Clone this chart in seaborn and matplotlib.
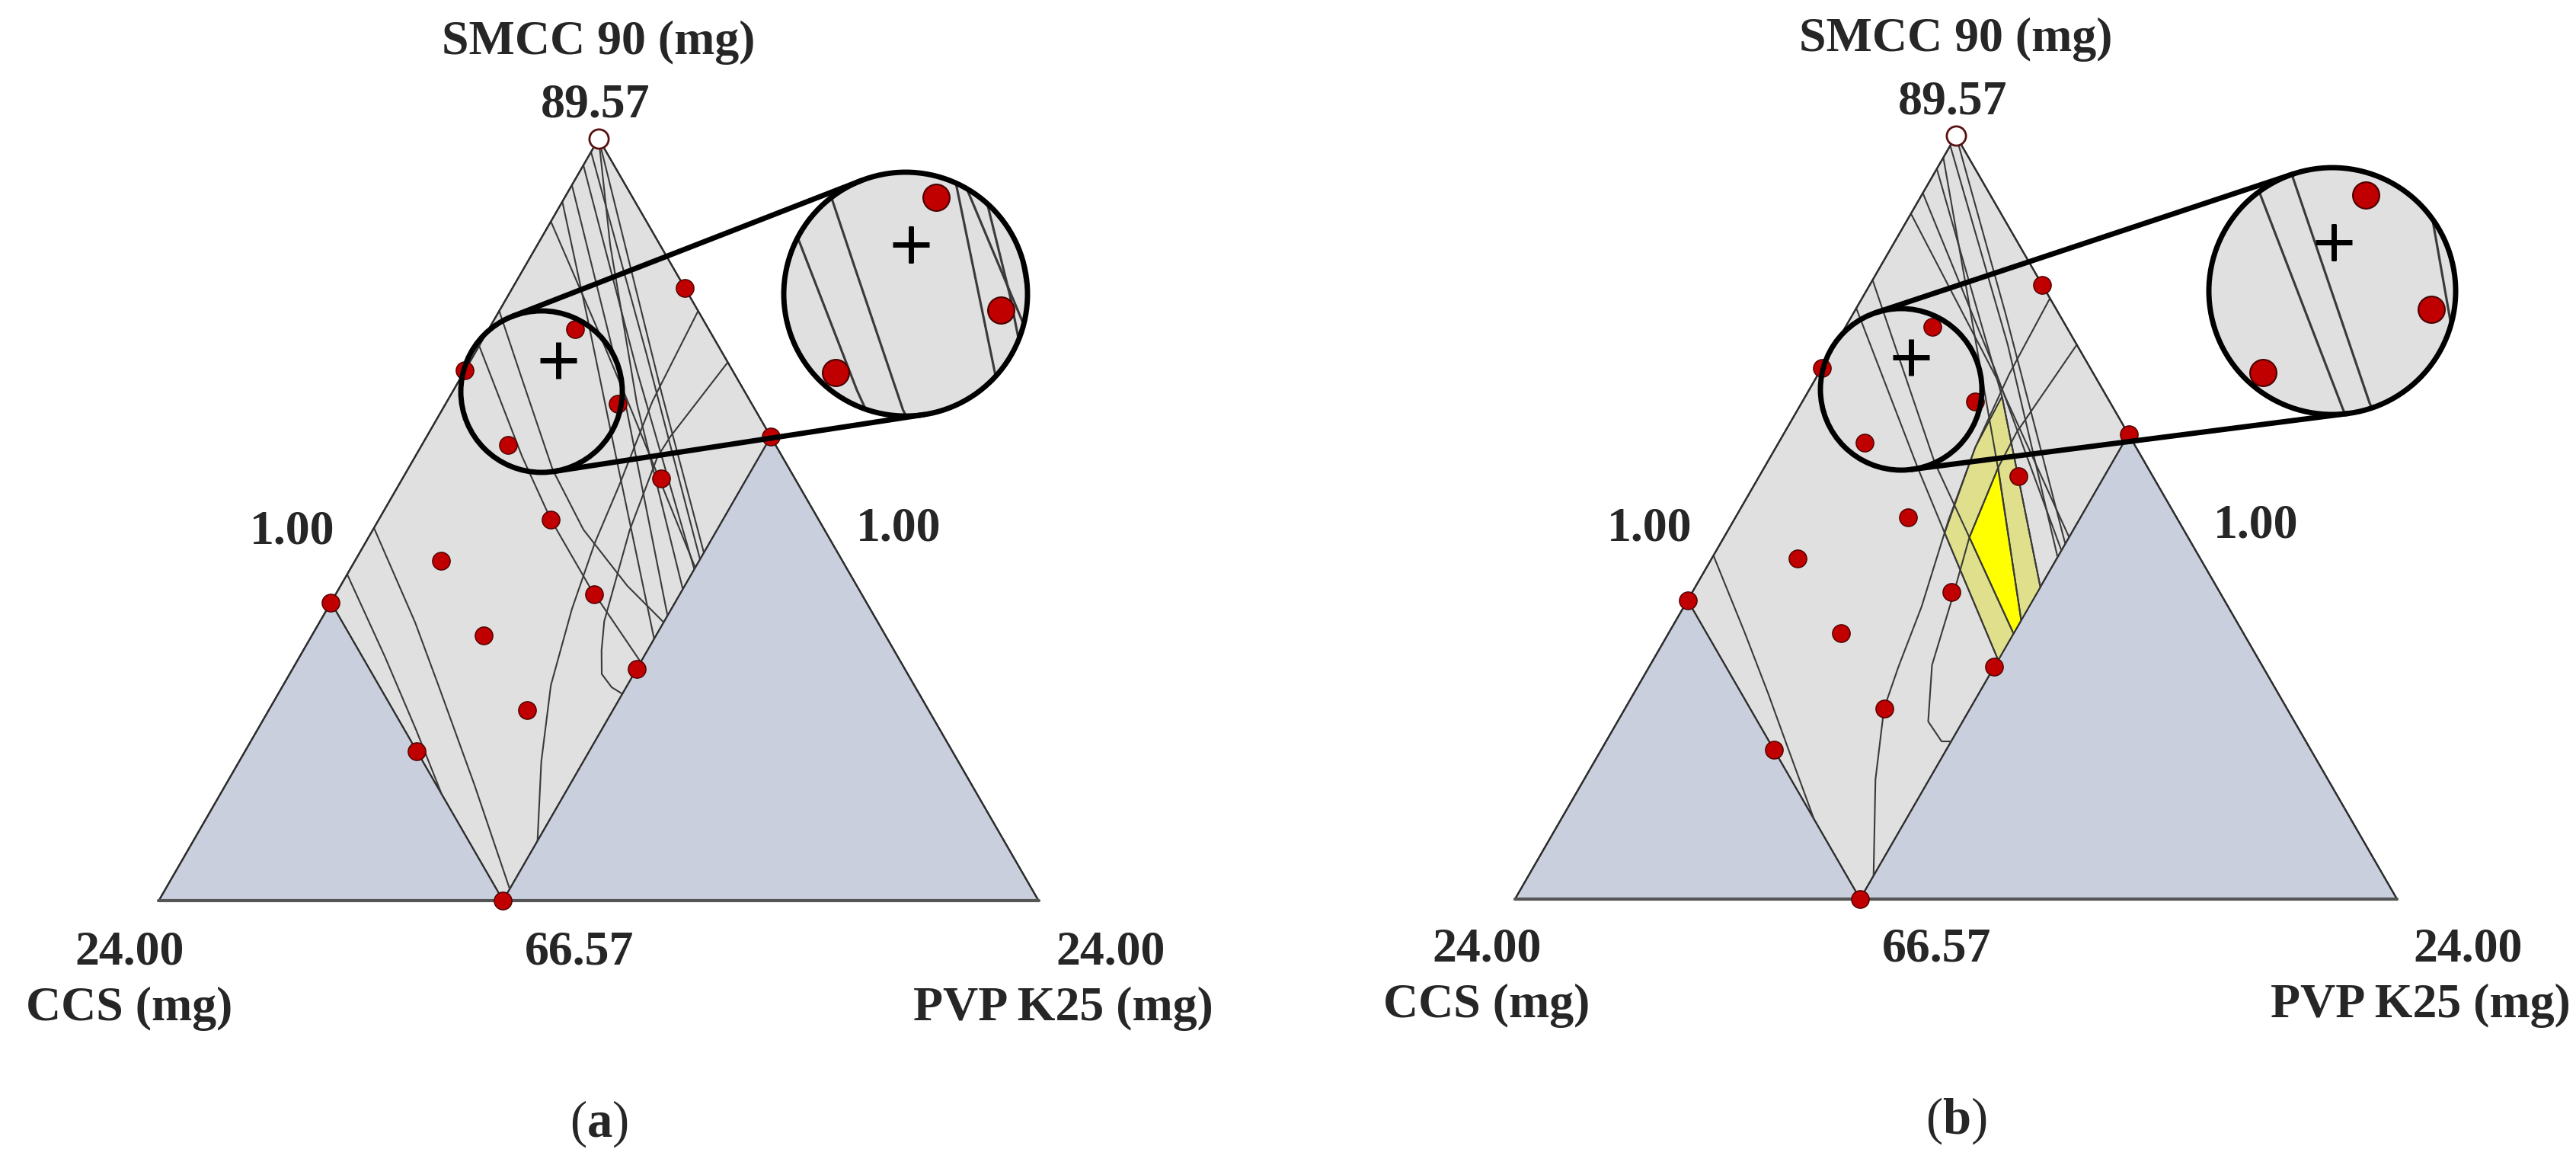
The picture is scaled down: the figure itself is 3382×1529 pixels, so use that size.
import numpy as np
import matplotlib
matplotlib.use("Agg")
import matplotlib.pyplot as plt
from matplotlib.patches import Circle, Polygon
from matplotlib.transforms import Affine2D
import seaborn as sns

sns.set_style("white")
plt.rcParams["font.family"] = ["Liberation Serif", "DejaVu Serif"]
plt.rcParams["mathtext.fontset"] = "custom"
plt.rcParams["mathtext.rm"] = "Liberation Serif"
plt.rcParams["mathtext.bf"] = "Liberation Serif:bold"

W, H, DPI = 3382, 1529, 100

# mixture limits (mg); SMCC 90 = 91.57 - CCS - PVP
LOW = 1.0
SPAN = 23.0
CCS_MAX, PVP_MAX = 15.0, 10.0

# design runs (mg)
ccs_mg = [1, 8, 4.5, 4.5, 8, 1, 4.5, 8, 11.5, 15, 8, 11.5, 8, 11.5, 15, 15]
pvp_mg = [5.5, 1, 3.25, 5.5, 3.25, 10, 7.75, 5.5, 3.25, 1, 7.75, 5.5, 10, 7.75, 5.5, 10]
ref_ccs, ref_pvp = [1.0], [1.0]

# optimum (+)
opt_ccs = {"a": 5.41, "b": 5.51}
opt_pvp = {"a": 3.28, "b": 3.17}

# contour lines: (CCS mg, PVP mg)
contours_a = {
    "L1": ([14.15, 14.41, 14.70, 15.0], [1.0, 3.25, 5.17, 6.8]),
    "L2": ([12.75, 13.1, 13.45, 14.0, 14.65], [1.0, 3.5, 5.1, 7.5, 10.0]),
    "L3": ([7.25, 7.8, 8.0, 8.0, 7.8], [1.0, 3.8, 5.5, 7.5, 10.0]),
    "L4": ([6.2, 6.6, 7.2, 7.3, 7.0, 6.6], [1.0, 2.5, 4.8, 6.5, 8.5, 10.0]),
    "b1": ([1.4, 3.0, 4.7], [1.0, 5.5, 10.0]),
    "b2": ([1.8, 3.5, 5.0], [1.0, 5.5, 10.0]),
    "b3": ([3.5, 3.9, 4.25, 4.95], [1.0, 3.8, 6.0, 10.0]),
    "b4": ([2.9, 4.06, 5.26, 7.1], [1.0, 3.54, 6.07, 10.0]),
    "b5": ([2.4, 4.2, 6.4], [1.0, 5.5, 10.0]),
    "b6": ([1.0, 2.3, 4.0, 5.6], [1.0, 2.9, 6.0, 10.0]),
    "b7": ([1.0, 1.8, 3.2, 4.5], [1.0, 3.0, 6.5, 10.0]),
    "a1": ([1.0, 3.56, 5.7, 7.2, 8.8, 10.5, 11.9, 13.2],
           [6.2, 6.37, 6.77, 7.0, 7.4, 8.0, 8.9, 10.0]),
    "a2": ([1.0, 3.63, 4.27, 6.1, 8.14, 8.65, 9.0, 8.94, 8.76],
           [7.75, 7.37, 7.34, 7.72, 8.43, 8.8, 9.16, 9.62, 10.0]),
}
contours_b = {
    "L1": ([13.65, 14.0, 14.3, 14.62, 15.0], [1.0, 3.0, 4.5, 5.9, 7.6]),
    "A1": ([1.0, 3.2, 5.2, 7.0, 9.0, 10.5, 11.5, 12.8, 14.3],
           [5.9, 5.98, 6.2, 6.6, 7.2, 7.5, 7.75, 8.6, 10.0]),
    "A2": ([1.0, 3.9, 4.9, 6.7, 8.0, 9.6, 10.55, 10.5, 10.25],
           [7.3, 7.05, 7.1, 7.4, 7.85, 8.35, 9.1, 9.75, 10.0]),
    "S1": ([2.0, 3.73, 5.6], [1.0, 6.13, 10.0]),
    "S2": ([6.2, 7.0, 7.28, 7.8], [1.0, 5.0, 6.69, 10.0]),
    "S3": ([5.35, 6.48, 6.7, 7.0], [1.0, 5.37, 7.38, 10.0]),
    "S4": ([1.66, 4.9, 6.6], [1.0, 7.08, 10.0]),
    "B1": ([3.35, 3.6, 4.1], [1.0, 5.8, 10.0]),
    "B2": ([2.73, 3.5, 4.5], [1.0, 5.5, 10.0]),
    "B3": ([1.3, 2.8, 4.7], [1.0, 5.5, 10.0]),
    "B4": ([1.0, 2.4, 4.3], [1.0, 5.0, 10.0]),
}
# design space (panel b)
space_ccs = [3.73, 5.2, 7.28, 7.8, 5.6]
space_pvp = [6.13, 6.2, 6.69, 10.0, 10.0]
best_ccs = [4.9, 6.7, 7.0, 6.6]
best_pvp = [7.1, 7.4, 10.0, 10.0]

# axis texts
apex_title = "SMCC 90 (mg)"
apex_val, left_val, right_val = "89.57", "1.00", "1.00"
bl_val, bottom_val, br_val = "24.00", "66.57", "24.00"
bl_title, br_title = "CCS (mg)", "PVP K25 (mg)"

# layout in figure pixels
PANELS = {
    "a": dict(apex=(786, 182), base=1182, half=577.5, small=(711, 514, 106),
              src=(728, 516), big=(1189, 386, 160)),
    "b": dict(apex=(2568, 178), base=1180, half=579, small=(2496, 511, 106),
              src=(2508, 511), big=(3062, 382, 162)),
}

GREY, BLUE = "#e0e0e0", "#c9cfdc"
EDGE, LINE = "#2e2e2e", "#3a3a3a"


def tern(p):
    x0, y0 = p["apex"]
    a = -p["half"] / SPAN
    b = p["half"] / SPAN
    d = (p["base"] - y0) / SPAN
    e = d
    m = np.array([[a, b, x0 - (a + b) * LOW],
                  [d, e, y0 - (d + e) * LOW],
                  [0, 0, 1]])
    return Affine2D(m)


def draw_content(ax, key, tr, k=1.0, clip=None, z=0):
    arts = []
    hi = LOW + SPAN
    regions = [
        ([LOW, CCS_MAX, CCS_MAX, LOW], [LOW, LOW, PVP_MAX, PVP_MAX], GREY),
        ([CCS_MAX, hi, CCS_MAX], [LOW, LOW, PVP_MAX], BLUE),
        ([LOW, CCS_MAX, LOW], [PVP_MAX, PVP_MAX, hi], BLUE),
    ]
    for cx, cy, fc in regions:
        arts.append(ax.add_patch(Polygon(np.column_stack([cx, cy]), closed=True,
                                         transform=tr, fc=fc, ec=EDGE, lw=1.6 * k,
                                         zorder=z + 1)))
    if key == "b":
        arts.append(ax.add_patch(Polygon(np.column_stack([space_ccs, space_pvp]),
                                         transform=tr, fc="#e0e08c", ec=EDGE,
                                         lw=1.4 * k, zorder=z + 2)))
        arts.append(ax.add_patch(Polygon(np.column_stack([best_ccs, best_pvp]),
                                         transform=tr, fc="#ffff00", ec=EDGE,
                                         lw=1.4 * k, zorder=z + 2)))
    lines = contours_a if key == "a" else contours_b
    for cx, cy in lines.values():
        arts += ax.plot(cx, cy, color=LINE, lw=1.5 * k, transform=tr,
                        zorder=z + 3, solid_capstyle="butt")
    arts.append(ax.add_patch(Polygon([[LOW, LOW], [hi, LOW], [LOW, hi]], closed=True,
                                     transform=tr, fill=False, ec=EDGE, lw=1.6 * k,
                                     zorder=z + 4)))
    # bottom edge of the simplex is drawn a little heavier
    arts += ax.plot([hi, LOW], [LOW, hi], color="#555555", lw=3.0 * k,
                    transform=tr, zorder=z + 4)
    sns.scatterplot(x=ccs_mg, y=pvp_mg, ax=ax, s=280 * k * k, color="#c00000",
                    edgecolor="#4a0000", linewidth=1.0 * k, transform=tr,
                    zorder=z + 5, legend=False)
    arts.append(ax.collections[-1])
    sns.scatterplot(x=ref_ccs, y=ref_pvp, ax=ax, s=330 * k * k, color="white",
                    edgecolor="#5a1010", linewidth=2.0 * k, transform=tr,
                    zorder=z + 5, legend=False)
    arts.append(ax.collections[-1])
    # the optimum cross keeps its size inside the magnifier
    arts += ax.plot([opt_ccs[key]], [opt_pvp[key]], marker="+", ms=34,
                    mew=5.0, color="black", transform=tr, zorder=z + 6)
    if clip is not None:
        for a in arts:
            a.set_clip_path(clip)


def tangents(c1, r1, c2, r2):
    c1, c2 = np.asarray(c1, float), np.asarray(c2, float)
    d = c2 - c1
    th = np.arctan2(d[1], d[0])
    al = np.arccos((r1 - r2) / np.hypot(*d))
    out = []
    for s in (1, -1):
        n = np.array([np.cos(th + s * al), np.sin(th + s * al)])
        out.append((c1 + r1 * n, c2 + r2 * n))
    return out


fig = plt.figure(figsize=(W / DPI, H / DPI), dpi=DPI)
ax = fig.add_axes([0, 0, 1, 1])

for key, p in PANELS.items():
    tr = tern(p) + ax.transData
    draw_content(ax, key, tr)

    # magnified inset
    sx, sy = p["src"]
    bx, by, br = p["big"]
    mag = br / p["small"][2]
    zoom = Affine2D().translate(-sx, -sy).scale(mag).translate(bx, by)
    clip = Circle((bx, by), br, transform=ax.transData)
    ax.add_patch(Circle((bx, by), br, fc=GREY, ec="none", zorder=10))
    draw_content(ax, key, tern(p) + zoom + ax.transData, k=1.5, clip=clip, z=10)

    cx, cy, cr = p["small"]
    for c, r in (((cx, cy), cr), ((bx, by), br)):
        ax.add_patch(Circle(c, r, fill=False, ec="black", lw=5, zorder=30))
    for p1, p2 in tangents((cx, cy), cr, (bx, by), br):
        ax.plot([p1[0], p2[0]], [p1[1], p2[1]], color="black", lw=5,
                solid_capstyle="round", zorder=30)

    # labels
    x0, y0 = p["apex"]
    bold = dict(fontsize=46, fontweight="bold", ha="center", va="center")
    ax.text(x0, y0 - 126, apex_title, **bold)
    ax.text(x0 - 4, y0 - 44, apex_val, **bold)
    ax.text(x0 - 402, y0 + 517, left_val, **bold)
    ax.text(x0 + 394, y0 + 513, right_val, **bold)
    ax.text(x0 - 616, y0 + 1069, bl_val, **bold)
    ax.text(x0 - 25, y0 + 1069, bottom_val, **bold)
    ax.text(x0 + 672, y0 + 1069, br_val, **bold)
    ax.text(x0 - 616, y0 + 1142, bl_title, **bold)
    ax.text(x0 + 610, y0 + 1142, br_title, **bold)
    ax.text(x0, y0 + 1293, r"($\mathbf{%s}$)" % key, fontsize=48,
            ha="center", va="center")

ax.set_xlim(0, W)
ax.set_ylim(H, 0)
ax.axis("off")
fig.savefig("out.png", dpi=DPI, facecolor="white")
